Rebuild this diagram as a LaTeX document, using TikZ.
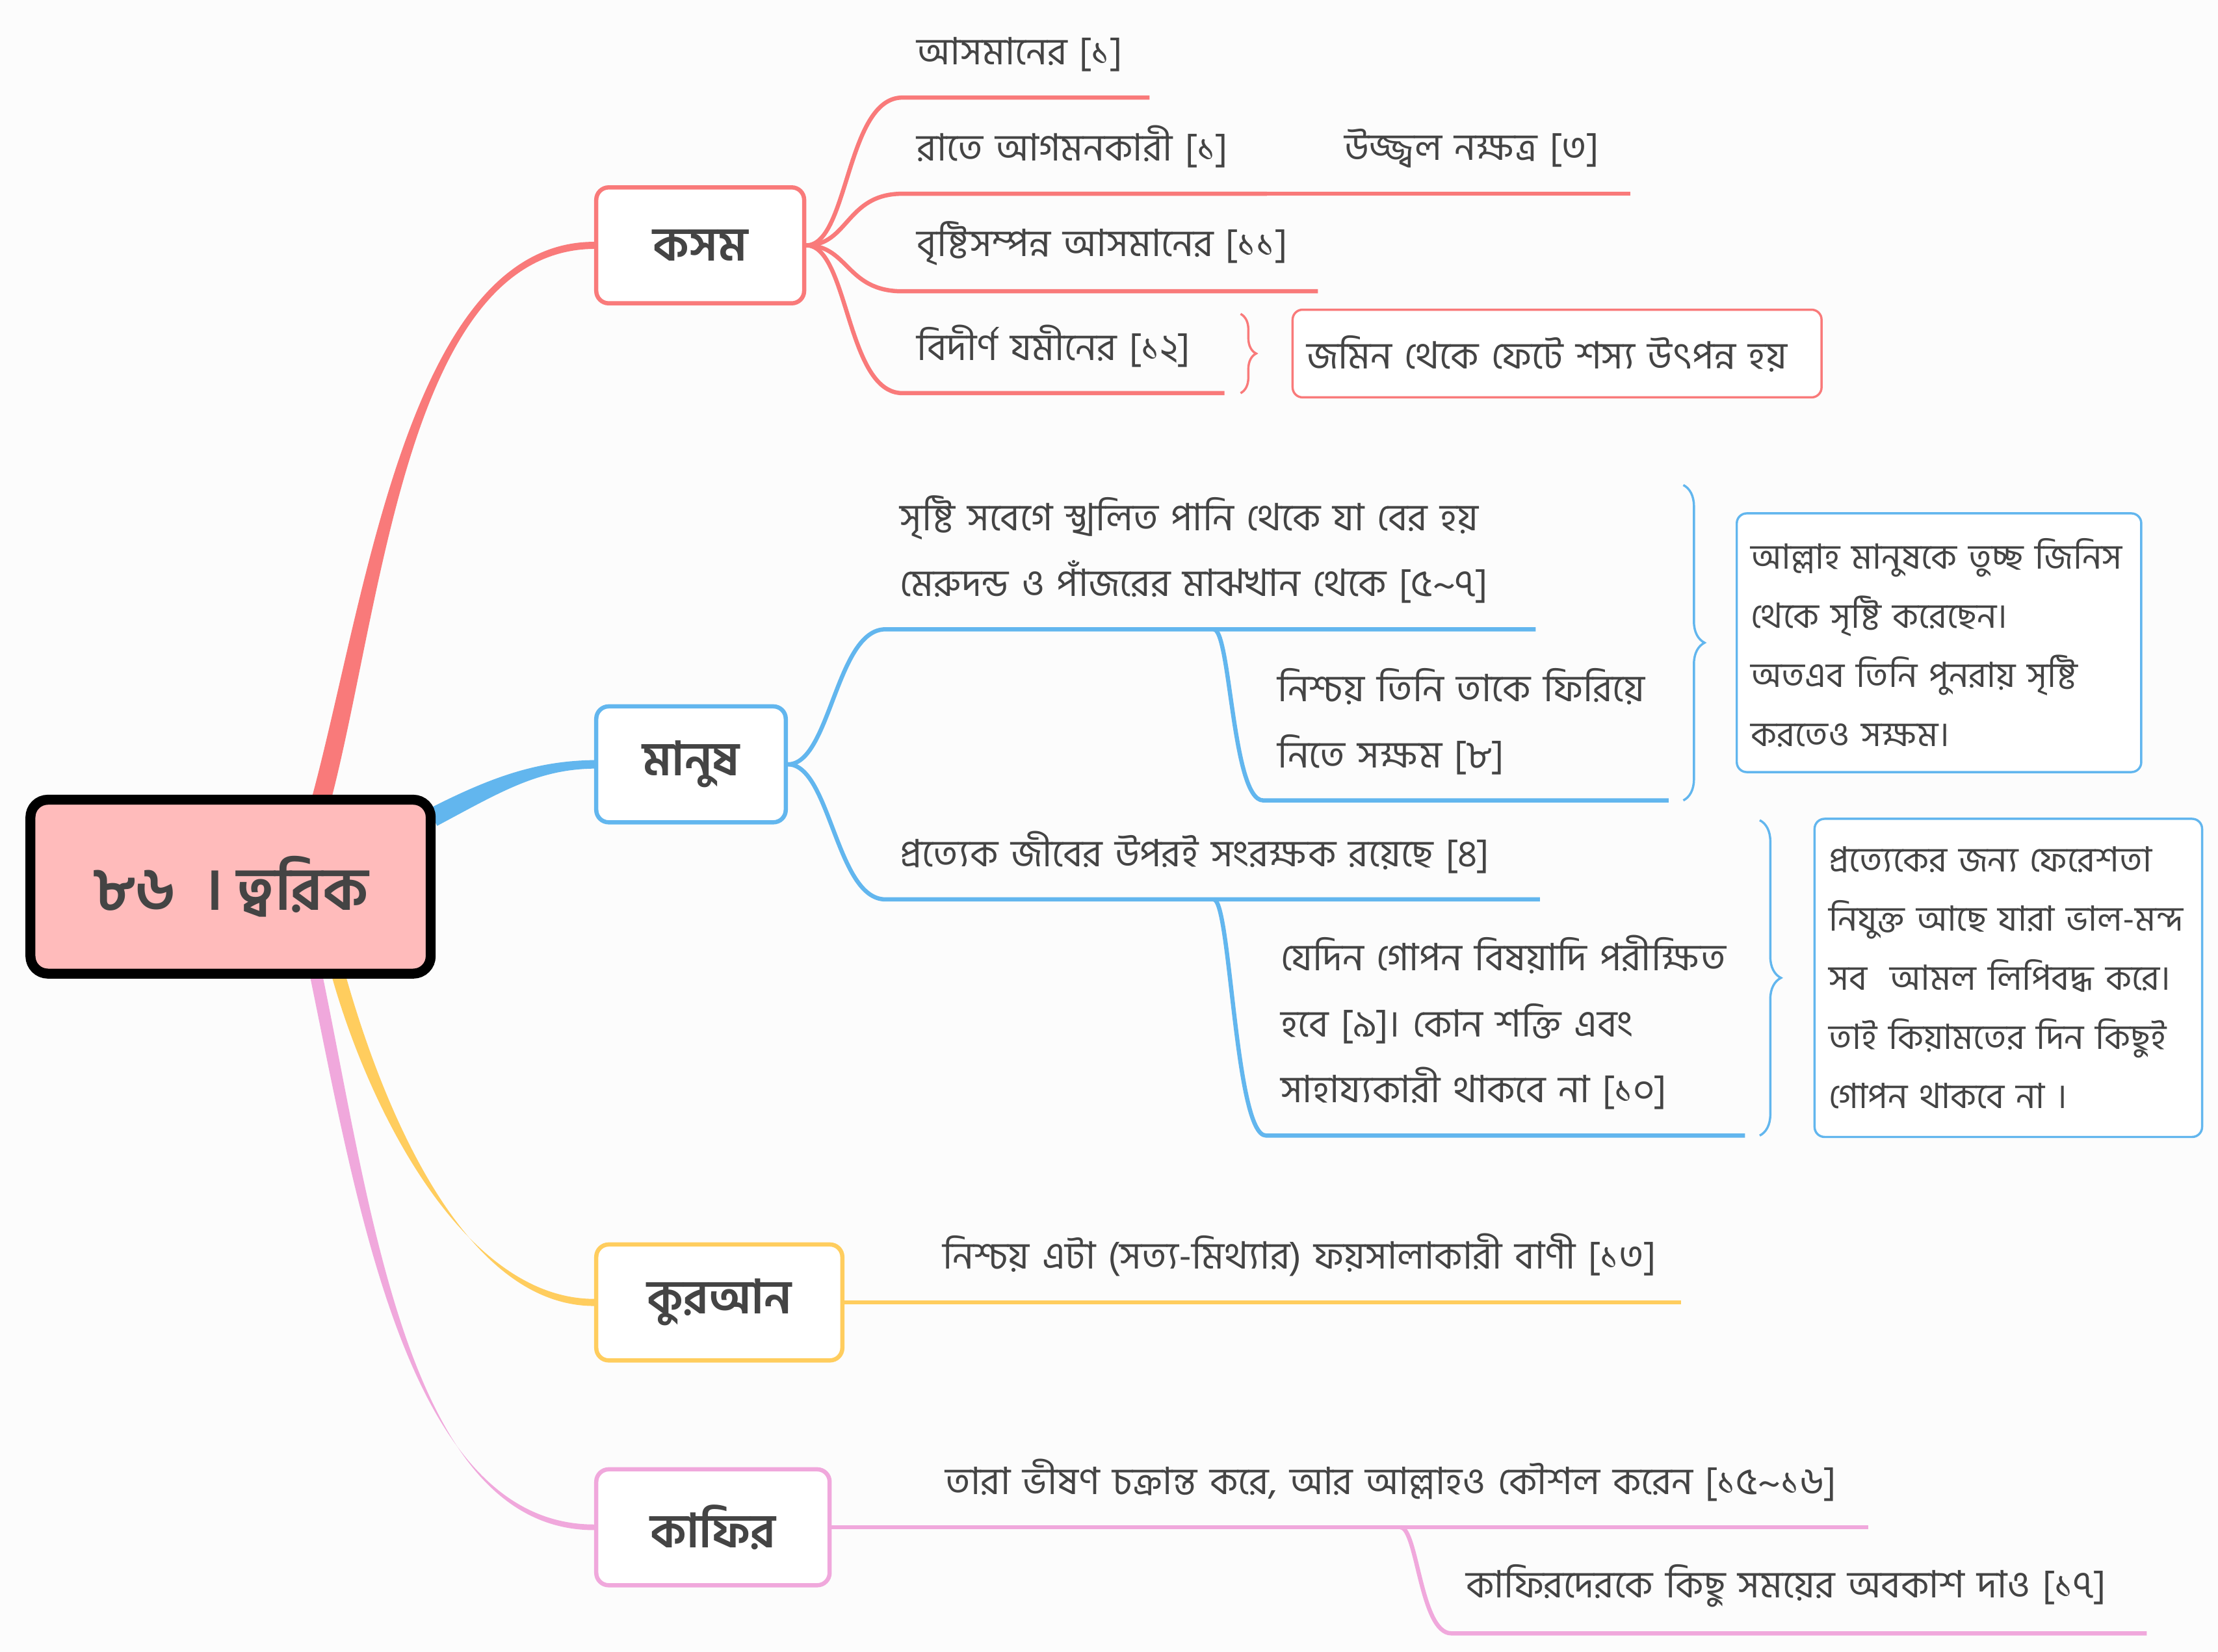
\documentclass[tikz,border=0pt]{standalone}
\usepackage{fontspec}
\newfontfamily\bnfont[Script=Bengali]{Hind Siliguri}
\usepackage{tikz}
\usetikzlibrary{positioning,calc,backgrounds,decorations.pathreplacing}
\definecolor{ink}{HTML}{444444}
\definecolor{paper}{HTML}{FCFCFC}
\definecolor{rootpink}{HTML}{FFBBBB}
\definecolor{kred}{HTML}{F97A7A}
\definecolor{mblue}{HTML}{62B6EE}
\definecolor{qyellow}{HTML}{FFCD5E}
\definecolor{fpink}{HTML}{F0A8DC}
\tikzset{
  rootbox/.style={rectangle, rounded corners=7pt, draw=black, line width=4pt, fill=rootpink,
              minimum width=5.66cm, minimum height=2.46cm, text=ink,
              font=\bnfont\fontsize{24}{28}\selectfont\bfseries},
  topic/.style={rectangle, rounded corners=5pt, draw=#1, line width=1.7pt, fill=white,
              minimum height=1.64cm, text=ink, font=\bnfont\fontsize{19}{22}\selectfont\bfseries},
  leaf/.style={anchor=south west, align=left, text=ink, inner xsep=0.2cm, inner ysep=0.36cm,
              font=\bnfont\fontsize{15.2}{26.6}\selectfont},
  note/.style={rectangle, rounded corners=4pt, draw=#1, line width=0.9pt, fill=white, anchor=west,
              align=left, text=ink, inner xsep=0.2cm, font=\bnfont\fontsize{14}{23.8}\selectfont},
  twig/.style={draw=#1, line width=1.7pt},
  brc/.style 2 args={draw=#1, line width=0.9pt, decorate, decoration={brace, amplitude=#2}}
}
\begin{document}
\begin{tikzpicture}[x=0.02cm, y=-0.02cm]
  \useasboundingbox (0,0) rectangle (1568,1168);

  % root and main topics
  \node[rootbox] (root) at (163,627) {৮৬\ \ । ত্বরিক};
  \node[topic=kred, minimum width=2.94cm] (kasam) at (495,173.5) {কসম};
  \node[topic=mblue, minimum width=2.68cm] (manush) at (488.5,540.5) {মানুষ};
  \node[topic=qyellow, minimum width=3.48cm] (quran) at (508.5,921) {কুরআন};
  \node[topic=fpink, minimum width=3.30cm] (kafir) at (504,1080) {কাফির};

  % kasam
  \node[leaf, text width=3.08cm] (L1) at (638,69) {আসমানের [১]};
  \node[leaf, text width=4.74cm] (L2) at (638,137) {রাতে আগমনকারী [১]};
  \node[leaf, text width=3.84cm] (L2a) at (940,137) {উজ্জ্বল নক্ষত্র [৩]};
  \node[leaf, text width=5.46cm] (L3) at (638,206) {বৃষ্টিসম্পন্ন আসমানের [১১]};
  \node[leaf, text width=4.14cm] (L4) at (638,278) {বিদীর্ণ যমীনের [১২]};
  \coordinate (bA1) at (877,222);
  \coordinate (bA2) at (877,278);
  \node[note=kred, text width=7.08cm, minimum height=1.24cm, font=\bnfont\fontsize{15.2}{26.6}\selectfont]
    (N1) at (913,250) {জমিন থেকে ফেটে শস্য উৎপন্ন হয়};

  % manush
  \node[leaf, text width=8.78cm] (L5) at (626,445)
    {সৃষ্টি সবেগে স্খলিত পানি থেকে যা বের হয়\\মেরুদন্ড ও পাঁজরের মাঝখান থেকে [৫\textasciitilde৭]};
  \node[leaf, text width=5.32cm] (L5a) at (893,566) {নিশ্চয় তিনি তাকে ফিরিয়ে\\নিতে সক্ষম [৮]};
  \coordinate (f5) at (858,445);
  \coordinate (bB1) at (1190,343);
  \coordinate (bB2) at (1190,566);
  \node[note=mblue, text width=5.32cm, minimum height=3.66cm] (N2) at (1227,454.5)
    {আল্লাহ মানুষকে তুচ্ছ জিনিস\\থেকে সৃষ্টি করেছেন।\\অতএব তিনি পুনরায় সৃষ্টি\\করতেও সক্ষম।};
  \node[leaf, text width=8.84cm] (L6) at (626,636) {প্রত্যেক জীবের উপরই সংরক্ষক রয়েছে [৪]};
  \node[leaf, text width=6.36cm] (L6a) at (895,803)
    {যেদিন গোপন বিষয়াদি পরীক্ষিত\\হবে [৯]। কোন শক্তি এবং\\সাহায্যকারী থাকবে না [১০]};
  \coordinate (f6) at (858,636);
  \coordinate (bC1) at (1244,580);
  \coordinate (bC2) at (1244,803);
  \node[note=mblue, text width=5.08cm, minimum height=4.5cm] (N3) at (1282,691.5)
    {প্রত্যেকের জন্য ফেরেশতা\\নিযুক্ত আছে যারা ভাল-মন্দ\\সব\ \ আমল লিপিবদ্ধ করে।\\তাই কিয়ামতের দিন কিছুই\\গোপন থাকবে না ।};

  % quran, kafir
  \node[leaf, text width=10.24cm] (L7) at (656,921) {নিশ্চয় এটা (সত্য-মিথ্যার) ফয়সালাকারী বাণী [১৩]};
  \node[leaf, text width=12.84cm] (L8) at (658,1080) {তারা ভীষণ চক্রান্ত করে, আর আল্লাহও কৌশল করেন [১৫\textasciitilde১৬]};
  \node[leaf, text width=9.42cm] (L8a) at (1026,1155) {কাফিরদেরকে কিছু সময়ের অবকাশ দাও [১৭]};
  \coordinate (f8) at (990,1080);

  \begin{scope}[on background layer]
    \fill[paper] (0,0) rectangle (1568,1168);
    % tapered trunks from the root
    \coordinate (rk) at (228,562);
    \coordinate (rm) at (306,578);
    \coordinate (rq) at (240,692);
    \coordinate (rf) at (224,692);
    \fill[kred] ($(rk)+(-7,0)$) .. controls (259,420) and (290,171) .. ($(kasam.west)+(0,-2.5)$)
      -- ($(kasam.west)+(0,2.5)$) .. controls (290,177) and (271,420) .. ($(rk)+(7,0)$) -- cycle;
    \fill[mblue] ($(rm)+(-3,-6)$) .. controls (348,549) and (380,538) .. ($(manush.west)+(0,-3)$)
      -- ($(manush.west)+(0,3)$) .. controls (380,544) and (354,560) .. ($(rm)+(3,6)$) -- cycle;
    \fill[qyellow] ($(rq)+(-5,0)$) .. controls (263,790) and (330,918.5) .. ($(quran.west)+(0,-2.5)$)
      -- ($(quran.west)+(0,2.5)$) .. controls (330,923.5) and (273,790) .. ($(rq)+(5,0)$) -- cycle;
    \fill[fpink] ($(rf)+(-4.5,0)$) .. controls (254,860) and (290,1078) .. ($(kafir.west)+(0,-2)$)
      -- ($(kafir.west)+(0,2)$) .. controls (290,1082) and (263,860) .. ($(rf)+(4.5,0)$) -- cycle;

    \foreach \l in {L1,L2,L3,L4}
      \draw[twig=kred] (kasam.east) .. controls +(30,0) and +(-40,0) .. (\l.south west) -- (\l.south east);
    \draw[twig=kred] (L2.south east) -- (L2a.south west) -- (L2a.south east);

    \foreach \l in {L5,L6}
      \draw[twig=mblue] (manush.east) .. controls +(30,0) and +(-35,0) .. (\l.south west) -- (\l.south east);
    \draw[twig=mblue] (f5) .. controls +(12,0) and +(-22,0) .. (L5a.south west) -- (L5a.south east);
    \draw[twig=mblue] (f6) .. controls +(12,0) and +(-22,0) .. (L6a.south west) -- (L6a.south east);

    \draw[twig=qyellow] (quran.east) -- (L7.south west) -- (L7.south east);
    \draw[twig=fpink] (kafir.east) -- (L8.south west) -- (L8.south east);
    \draw[twig=fpink] (f8) .. controls +(12,0) and +(-22,0) .. (L8a.south west) -- (L8a.south east);
  \end{scope}

  \draw[brc={kred}{0.22cm}] (bA1) -- (bA2);
  \draw[brc={mblue}{0.3cm}] (bB1) -- (bB2);
  \draw[brc={mblue}{0.3cm}] (bC1) -- (bC2);
\end{tikzpicture}
\end{document}
